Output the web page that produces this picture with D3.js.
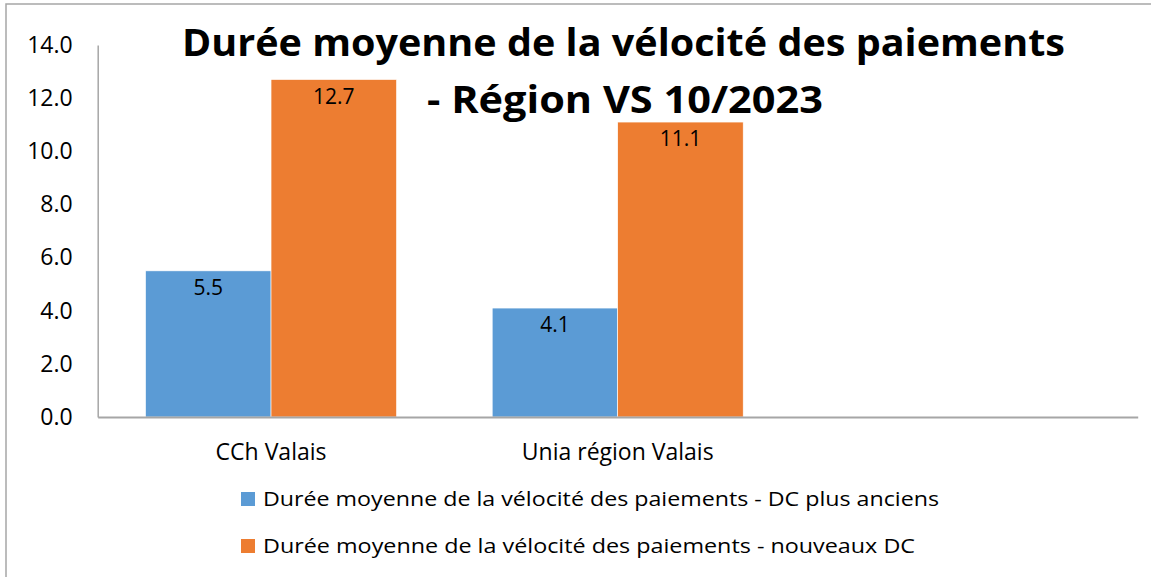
<!DOCTYPE html>
<html>
<head>
<meta charset="utf-8">
<script src="https://cdn.jsdelivr.net/npm/d3@7"></script>
<style>
  html, body { margin: 0; padding: 0; background: #fff; }
  svg { display: block; }
</style>
</head>
<body>
<script>
// ---- data ----
const categories = ["CCh Valais", "Unia région Valais", ""];
const seriesNames = [
  "Durée moyenne de la vélocité des paiements - DC plus anciens",
  "Durée moyenne de la vélocité des paiements - nouveaux DC"
];
const olderDC = [5.5, 4.1, null];
const newDC = [12.7, 11.1, null];
const yTicks = [0, 2, 4, 6, 8, 10, 12, 14];
const titleLines = ["Durée moyenne de la vélocité des paiements", "- Région VS 10/2023"];
const colors = ["#5B9BD5", "#ED7D31"];

// ---- layout ----
const W = 1151, H = 577;
const plot = { left: 97.7, right: 1137.7, top: 45, bottom: 417 };
const FONT = "'Open Sans', 'Noto Sans', sans-serif";

const svg = d3.select("body").append("svg")
  .attr("width", W).attr("height", H)
  .style("font-family", FONT);

svg.append("rect").attr("width", W).attr("height", H).attr("fill", "#fff");

// outer frame (top and left edges visible)
svg.append("path")
  .attr("d", `M6,${H} L6,4 L${W},4`)
  .attr("fill", "none").attr("stroke", "#A6A6A6").attr("stroke-width", 1.5);

const x0 = d3.scaleBand().domain(categories).range([plot.left, plot.right]);
const gap = x0.bandwidth() * 0.138;
const x1 = d3.scaleBand().domain([0, 1]).range([gap, x0.bandwidth() - gap]);
const y = d3.scaleLinear().domain([0, 14]).range([plot.bottom, plot.top]);

const series = [olderDC, newDC];
const rows = [];
series.forEach((vals, s) => vals.forEach((v, i) => {
  if (v != null) rows.push({ cat: categories[i], s, v });
}));

// bars
svg.append("g").selectAll("rect").data(rows).join("rect")
  .attr("x", d => x0(d.cat) + x1(d.s))
  .attr("y", d => y(d.v))
  .attr("width", x1.bandwidth())
  .attr("height", d => y(0) - y(d.v))
  .attr("fill", d => colors[d.s])
  .attr("stroke", "#ffffff").attr("stroke-width", 0.6);

// data labels
svg.append("g").selectAll("text").data(rows).join("text")
  .attr("x", d => x0(d.cat) + x1(d.s) + x1.bandwidth() / 2)
  .attr("y", d => y(d.v) + 24)
  .attr("text-anchor", "middle")
  .attr("font-size", 21)
  .attr("fill", "#000")
  .text(d => d3.format(".1f")(d.v));

// y axis
const yAxis = svg.append("g")
  .attr("transform", `translate(${plot.left},0)`)
  .call(d3.axisLeft(y).tickValues(yTicks).tickFormat(d3.format(".1f")).tickSize(0).tickPadding(25));
yAxis.select(".domain").attr("stroke", "#A6A6A6").attr("stroke-width", 1.5);
yAxis.selectAll("text").attr("font-size", 23).attr("font-family", FONT).attr("fill", "#000");

// x axis
const xAxis = svg.append("g")
  .attr("transform", `translate(0,${plot.bottom})`)
  .call(d3.axisBottom(x0).tickSize(0).tickPadding(27));
xAxis.select(".domain").attr("stroke", "#A6A6A6").attr("stroke-width", 2);
xAxis.selectAll("text").attr("font-size", 23).attr("font-family", FONT).attr("fill", "#000");

// title
const titleY = [56, 113];
const titleX = [623.5, 625];
const titleW = [883, 396];
titleLines.forEach((t, i) => {
  svg.append("text")
    .attr("x", titleX[i]).attr("y", titleY[i])
    .attr("text-anchor", "middle")
    .attr("font-size", 38).attr("font-weight", "bold")
    .attr("fill", "#000")
    .attr("textLength", titleW[i]).attr("lengthAdjust", "spacingAndGlyphs")
    .text(t);
});

// legend
const legY = [492, 539];
const legW = [676, 652];
const leg = svg.append("g");
seriesNames.forEach((name, i) => {
  leg.append("rect")
    .attr("x", 241).attr("y", legY[i])
    .attr("width", 14).attr("height", 14)
    .attr("fill", colors[i]);
  leg.append("text")
    .attr("x", 263).attr("y", legY[i] + 14)
    .attr("font-size", 20)
    .attr("fill", "#000")
    .attr("textLength", legW[i]).attr("lengthAdjust", "spacingAndGlyphs")
    .text(name);
});
</script>
</body>
</html>
